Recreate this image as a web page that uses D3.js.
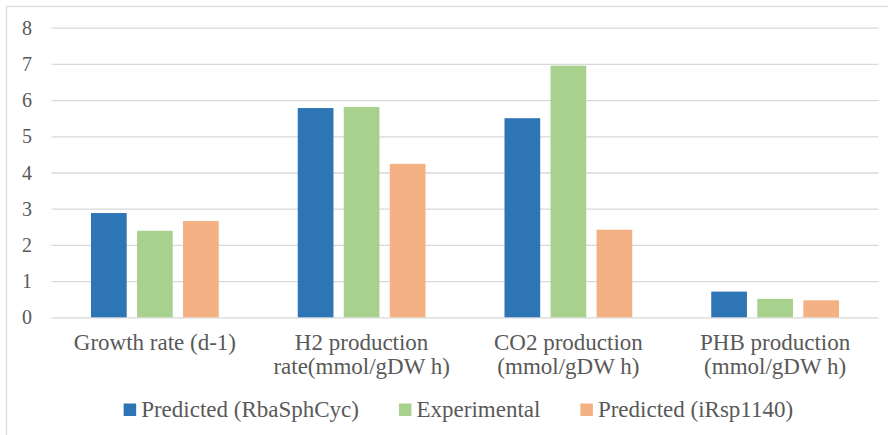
<!DOCTYPE html>
<html>
<head>
<meta charset="utf-8">
<script src="https://cdn.jsdelivr.net/npm/d3@7"></script>
<style>
  html, body { margin: 0; padding: 0; background: #fff; }
  svg { display: block; }
</style>
</head>
<body>
<svg id="chart" width="888" height="435"></svg>
<script>
// Category labels (split into lines) and series
const categories = [
  ["Growth rate (d-1)"],
  ["H2 production", "rate(mmol/gDW h)"],
  ["CO2 production", "(mmol/gDW h)"],
  ["PHB production", "(mmol/gDW h)"]
];
const seriesNames = ["Predicted (RbaSphCyc)", "Experimental", "Predicted (iRsp1140)"];
const predictedRba = [2.88, 5.78, 5.50, 0.71];
const experimental = [2.39, 5.81, 6.95, 0.51];
const predictedIrsp = [2.66, 4.24, 2.42, 0.47];
const yTicks = [0, 1, 2, 3, 4, 5, 6, 7, 8];
const colors = ["#2E75B6", "#A9D18E", "#F4B183"];

const FONT = "'Times New Roman', 'Liberation Serif', 'DejaVu Serif', serif";
const TEXT_COLOR = "#595959";

// pin each label to its measured advance width
function fixLength(sel) {
  sel.each(function () {
    const L = this.getComputedTextLength();
    d3.select(this).attr("textLength", L).attr("lengthAdjust", "spacingAndGlyphs");
  });
}

const series = [predictedRba, experimental, predictedIrsp];
const svg = d3.select("#chart");

// outer frame
svg.append("rect")
  .attr("x", 6.5).attr("y", 6.5).attr("width", 900).attr("height", 450)
  .attr("fill", "none").attr("stroke", "#d9d9d9").attr("stroke-width", 1.2);

const plot = { left: 51.5, right: 878.5, top: 27.7, bottom: 317.3 };

const y = d3.scaleLinear().domain([0, 8]).range([plot.bottom, plot.top]);
const x0 = d3.scaleBand()
  .domain(d3.range(categories.length))
  .range([plot.left, plot.right])
  .paddingInner(0.382).paddingOuter(0.191);
const x1 = d3.scaleBand()
  .domain(d3.range(series.length))
  .range([0, x0.bandwidth()])
  .paddingInner(0.224).paddingOuter(0);

// gridlines and value labels
const yAxis = d3.axisLeft(y).tickValues(yTicks).tickSize(-(plot.right - plot.left)).tickFormat(d3.format("d"));
const gy = svg.append("g").attr("transform", `translate(${plot.left},0)`).call(yAxis)
  .attr("font-family", FONT).attr("font-size", 20);
gy.select(".domain").remove();
gy.selectAll(".tick line").attr("stroke", "#d9d9d9").attr("stroke-width", 1.3);
gy.selectAll(".tick text")
  .attr("x", -19.5).attr("dy", "0.33em")
  .attr("fill", TEXT_COLOR)
  .call(fixLength);

// bars
const groups = svg.append("g").selectAll("g")
  .data(categories.map((c, i) => i))
  .join("g")
  .attr("transform", i => `translate(${x0(i)},0)`);

groups.selectAll("rect")
  .data(i => series.map((s, k) => ({ k, v: s[i] })))
  .join("rect")
  .attr("x", d => x1(d.k))
  .attr("width", x1.bandwidth())
  .attr("y", d => y(d.v))
  .attr("height", d => y(0) - y(d.v))
  .attr("fill", d => colors[d.k]);

// category labels
const xl = svg.append("g").attr("font-family", FONT).attr("font-size", 23).attr("fill", TEXT_COLOR);
categories.forEach((lines, i) => {
  const cx = x0(i) + x0.bandwidth() / 2;
  lines.forEach((ln, j) => {
    xl.append("text").attr("text-anchor", "middle")
      .attr("x", cx).attr("y", 349.5 + j * 24.5).text(ln)
      .call(fixLength);
  });
});

// legend
const legend = svg.append("g").attr("font-family", FONT).attr("font-size", 23).attr("fill", TEXT_COLOR);
const items = seriesNames.map((name, k) => {
  const g = legend.append("g");
  g.append("rect").attr("x", 0).attr("y", -13.5).attr("width", 12.5).attr("height", 12.5).attr("fill", colors[k]);
  const t = g.append("text").attr("x", 17.5).attr("y", 0).text(name).call(fixLength);
  return { g, w: 17.5 + t.node().getComputedTextLength() };
});
const gap = 40;
const total = d3.sum(items, d => d.w) + gap * (items.length - 1);
let lx = 458.4 - total / 2;
items.forEach(it => {
  it.g.attr("transform", `translate(${lx},417)`);
  lx += it.w + gap;
});
</script>
</body>
</html>
